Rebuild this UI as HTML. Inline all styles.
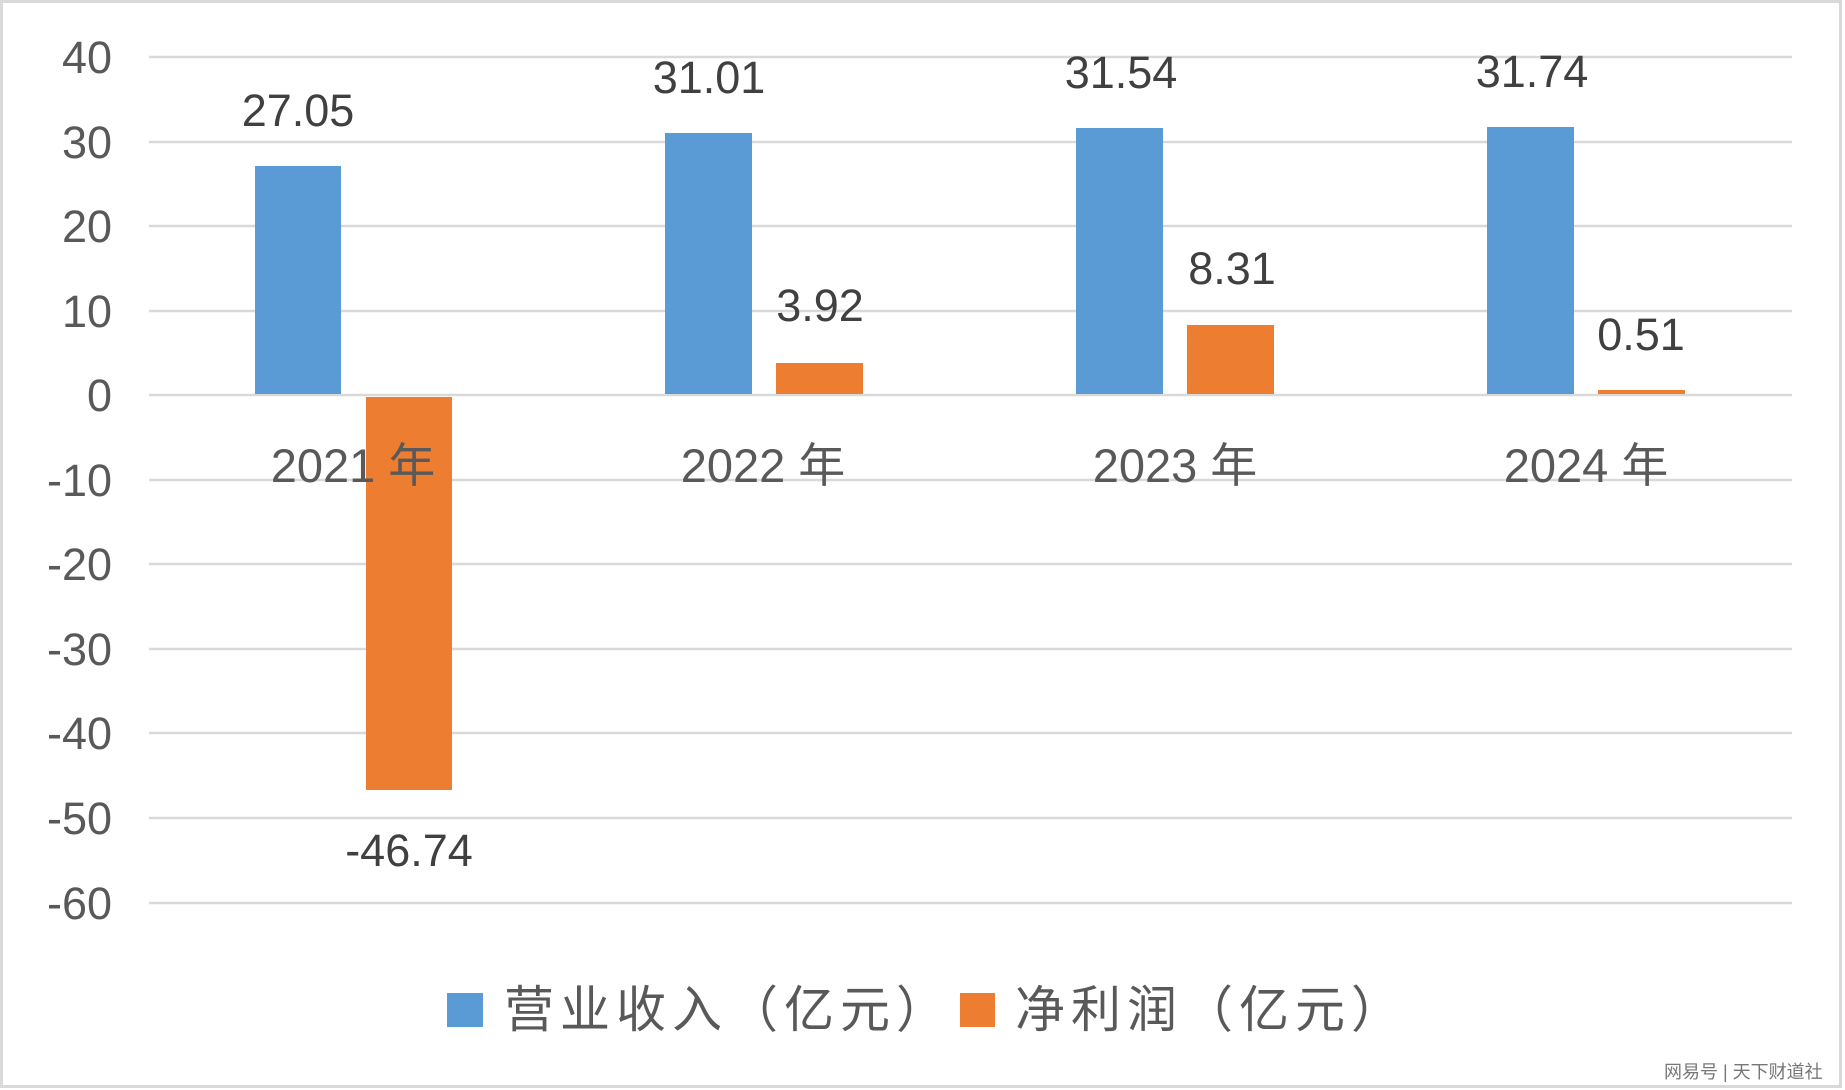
<!DOCTYPE html>
<html><head><meta charset="utf-8"><style>
html,body{margin:0;padding:0;background:#fff;}
svg{display:block;}
text{font-family:"Liberation Sans","Noto Sans CJK SC",sans-serif;}
</style></head><body>
<svg width="1845" height="1090" viewBox="0 0 1845 1090" xmlns="http://www.w3.org/2000/svg">
<rect x="1.5" y="1.5" width="1839" height="1085" fill="#fff" stroke="#d9d9d9" stroke-width="3"/>
<g stroke="#d9d9d9" stroke-width="2.5">
<line x1="149" x2="1792" y1="57" y2="57"/>
<line x1="149" x2="1792" y1="142" y2="142"/>
<line x1="149" x2="1792" y1="226" y2="226"/>
<line x1="149" x2="1792" y1="311" y2="311"/>
<line x1="149" x2="1792" y1="480" y2="480"/>
<line x1="149" x2="1792" y1="564" y2="564"/>
<line x1="149" x2="1792" y1="649" y2="649"/>
<line x1="149" x2="1792" y1="733" y2="733"/>
<line x1="149" x2="1792" y1="818" y2="818"/>
<line x1="149" x2="1792" y1="903" y2="903"/>
<line x1="149" x2="1792" y1="395" y2="395"/>
</g>
<g font-size="45" fill="#595959" text-anchor="end">
<text x="112" y="73">40</text>
<text x="112" y="158">30</text>
<text x="112" y="242">20</text>
<text x="112" y="327">10</text>
<text x="112" y="411">0</text>
<text x="112" y="496">-10</text>
<text x="112" y="580">-20</text>
<text x="112" y="665">-30</text>
<text x="112" y="749">-40</text>
<text x="112" y="834">-50</text>
<text x="112" y="919">-60</text>
</g>
<g fill="#5b9bd5">
<rect x="255" y="166" width="86" height="228"/>
<rect x="665" y="133" width="87" height="261"/>
<rect x="1076" y="128" width="87" height="266"/>
<rect x="1487" y="127" width="87" height="267"/>
</g>
<g fill="#ed7d31">
<rect x="366" y="397" width="86" height="393"/>
<rect x="776" y="363" width="87" height="31"/>
<rect x="1187" y="325" width="87" height="69"/>
<rect x="1598" y="390" width="87" height="4"/>
</g>
<g font-size="45" fill="#404040" text-anchor="middle">
<text x="298" y="126">27.05</text>
<text x="709" y="93">31.01</text>
<text x="820" y="321">3.92</text>
<text x="1121" y="88">31.54</text>
<text x="1232" y="284">8.31</text>
<text x="1532" y="87">31.74</text>
<text x="1641" y="350">0.51</text>
<text x="409" y="866">-46.74</text>
</g>
<g font-size="47" fill="#595959" text-anchor="middle">
<text x="353" y="482">2021 年</text>
<text x="763" y="482">2022 年</text>
<text x="1175" y="482">2023 年</text>
<text x="1586" y="482">2024 年</text>
</g>
<rect x="447" y="993" width="36" height="34" fill="#5b9bd5"/>
<rect x="960" y="993" width="35" height="34" fill="#ed7d31"/>
<g font-size="50" fill="#595959">
<text x="504" y="1027" letter-spacing="6">营业收入（亿元）</text>
<text x="1015" y="1027" letter-spacing="6">净利润（亿元）</text>
</g>
<text x="1664" y="1078" font-size="18" fill="#777">网易号 | 天下财道社</text>
</svg>
</body></html>
